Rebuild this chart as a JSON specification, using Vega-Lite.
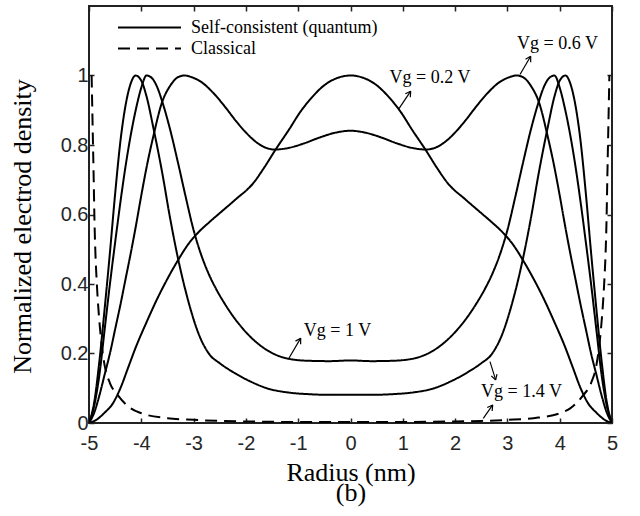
{
  "$schema": "https://vega.github.io/schema/vega-lite/v6.json",
  "width": 523,
  "height": 417,
  "autosize": {"type": "none"},
  "padding": {"left": 89, "top": 6, "right": 28, "bottom": 93},
  "background": "white",
  "config": {
    "view": {"stroke": "#222", "strokeWidth": 2},
    "axis": {
      "domain": false,
      "grid": false,
      "tickColor": "#222",
      "tickWidth": 1.5,
      "tickSize": -5,
      "labelFont": "Liberation Sans",
      "labelFontSize": 20,
      "labelColor": "#262626",
      "titleFont": "Liberation Serif",
      "titleFontSize": 26,
      "titleFontWeight": "normal",
      "titleColor": "black"
    }
  },
  "datasets": {
    "curves": [
      {"curve":"0.2","model":"quantum","r":-5,"n":0},{"curve":"0.2","model":"quantum","r":-4.85,"n":0.01},{"curve":"0.2","model":"quantum","r":-4.7,"n":0.03},{"curve":"0.2","model":"quantum","r":-4.55,"n":0.055},{"curve":"0.2","model":"quantum","r":-4.4,"n":0.1},{"curve":"0.2","model":"quantum","r":-4.25,"n":0.16},{"curve":"0.2","model":"quantum","r":-4.1,"n":0.22},{"curve":"0.2","model":"quantum","r":-3.9,"n":0.29},{"curve":"0.2","model":"quantum","r":-3.7,"n":0.356},{"curve":"0.2","model":"quantum","r":-3.5,"n":0.415},{"curve":"0.2","model":"quantum","r":-3.3,"n":0.468},{"curve":"0.2","model":"quantum","r":-3.1,"n":0.515},{"curve":"0.2","model":"quantum","r":-2.9,"n":0.55},{"curve":"0.2","model":"quantum","r":-2.7,"n":0.578},{"curve":"0.2","model":"quantum","r":-2.5,"n":0.604},{"curve":"0.2","model":"quantum","r":-2.2,"n":0.643},{"curve":"0.2","model":"quantum","r":-1.86,"n":0.69},{"curve":"0.2","model":"quantum","r":-1.65,"n":0.735},{"curve":"0.2","model":"quantum","r":-1.44,"n":0.785},{"curve":"0.2","model":"quantum","r":-1.16,"n":0.848},{"curve":"0.2","model":"quantum","r":-0.97,"n":0.893},{"curve":"0.2","model":"quantum","r":-0.75,"n":0.935},{"curve":"0.2","model":"quantum","r":-0.5,"n":0.972},{"curve":"0.2","model":"quantum","r":-0.25,"n":0.993},{"curve":"0.2","model":"quantum","r":0,"n":1},{"curve":"0.2","model":"quantum","r":0.25,"n":0.993},{"curve":"0.2","model":"quantum","r":0.5,"n":0.972},{"curve":"0.2","model":"quantum","r":0.75,"n":0.935},{"curve":"0.2","model":"quantum","r":0.97,"n":0.893},{"curve":"0.2","model":"quantum","r":1.16,"n":0.848},{"curve":"0.2","model":"quantum","r":1.44,"n":0.785},{"curve":"0.2","model":"quantum","r":1.65,"n":0.735},{"curve":"0.2","model":"quantum","r":1.86,"n":0.69},{"curve":"0.2","model":"quantum","r":2.2,"n":0.643},{"curve":"0.2","model":"quantum","r":2.5,"n":0.604},{"curve":"0.2","model":"quantum","r":2.7,"n":0.578},{"curve":"0.2","model":"quantum","r":2.9,"n":0.55},{"curve":"0.2","model":"quantum","r":3.1,"n":0.515},{"curve":"0.2","model":"quantum","r":3.3,"n":0.468},{"curve":"0.2","model":"quantum","r":3.5,"n":0.415},{"curve":"0.2","model":"quantum","r":3.7,"n":0.356},{"curve":"0.2","model":"quantum","r":3.9,"n":0.29},{"curve":"0.2","model":"quantum","r":4.1,"n":0.22},{"curve":"0.2","model":"quantum","r":4.25,"n":0.16},{"curve":"0.2","model":"quantum","r":4.4,"n":0.1},{"curve":"0.2","model":"quantum","r":4.55,"n":0.055},{"curve":"0.2","model":"quantum","r":4.7,"n":0.03},{"curve":"0.2","model":"quantum","r":4.85,"n":0.01},{"curve":"0.2","model":"quantum","r":5,"n":0},
      {"curve":"0.6","model":"quantum","r":-5,"n":0},{"curve":"0.6","model":"quantum","r":-4.9,"n":0.03},{"curve":"0.6","model":"quantum","r":-4.8,"n":0.08},{"curve":"0.6","model":"quantum","r":-4.7,"n":0.14},{"curve":"0.6","model":"quantum","r":-4.6,"n":0.2},{"curve":"0.6","model":"quantum","r":-4.5,"n":0.27},{"curve":"0.6","model":"quantum","r":-4.4,"n":0.34},{"curve":"0.6","model":"quantum","r":-4.3,"n":0.415},{"curve":"0.6","model":"quantum","r":-4.2,"n":0.49},{"curve":"0.6","model":"quantum","r":-4.1,"n":0.57},{"curve":"0.6","model":"quantum","r":-4.0,"n":0.655},{"curve":"0.6","model":"quantum","r":-3.88,"n":0.75},{"curve":"0.6","model":"quantum","r":-3.77,"n":0.825},{"curve":"0.6","model":"quantum","r":-3.61,"n":0.92},{"curve":"0.6","model":"quantum","r":-3.45,"n":0.97},{"curve":"0.6","model":"quantum","r":-3.3,"n":0.995},{"curve":"0.6","model":"quantum","r":-3.18,"n":1.0},{"curve":"0.6","model":"quantum","r":-3.0,"n":0.993},{"curve":"0.6","model":"quantum","r":-2.88,"n":0.984},{"curve":"0.6","model":"quantum","r":-2.6,"n":0.946},{"curve":"0.6","model":"quantum","r":-2.4,"n":0.91},{"curve":"0.6","model":"quantum","r":-2.2,"n":0.871},{"curve":"0.6","model":"quantum","r":-2.0,"n":0.836},{"curve":"0.6","model":"quantum","r":-1.8,"n":0.808},{"curve":"0.6","model":"quantum","r":-1.6,"n":0.791},{"curve":"0.6","model":"quantum","r":-1.45,"n":0.787},{"curve":"0.6","model":"quantum","r":-1.2,"n":0.791},{"curve":"0.6","model":"quantum","r":-0.9,"n":0.804},{"curve":"0.6","model":"quantum","r":-0.6,"n":0.821},{"curve":"0.6","model":"quantum","r":-0.3,"n":0.835},{"curve":"0.6","model":"quantum","r":0,"n":0.841},{"curve":"0.6","model":"quantum","r":0.3,"n":0.835},{"curve":"0.6","model":"quantum","r":0.6,"n":0.821},{"curve":"0.6","model":"quantum","r":0.9,"n":0.804},{"curve":"0.6","model":"quantum","r":1.2,"n":0.791},{"curve":"0.6","model":"quantum","r":1.45,"n":0.787},{"curve":"0.6","model":"quantum","r":1.6,"n":0.791},{"curve":"0.6","model":"quantum","r":1.8,"n":0.808},{"curve":"0.6","model":"quantum","r":2.0,"n":0.836},{"curve":"0.6","model":"quantum","r":2.2,"n":0.871},{"curve":"0.6","model":"quantum","r":2.4,"n":0.91},{"curve":"0.6","model":"quantum","r":2.6,"n":0.946},{"curve":"0.6","model":"quantum","r":2.88,"n":0.984},{"curve":"0.6","model":"quantum","r":3.0,"n":0.993},{"curve":"0.6","model":"quantum","r":3.18,"n":1.0},{"curve":"0.6","model":"quantum","r":3.3,"n":0.995},{"curve":"0.6","model":"quantum","r":3.45,"n":0.97},{"curve":"0.6","model":"quantum","r":3.61,"n":0.92},{"curve":"0.6","model":"quantum","r":3.77,"n":0.825},{"curve":"0.6","model":"quantum","r":3.88,"n":0.75},{"curve":"0.6","model":"quantum","r":4.0,"n":0.655},{"curve":"0.6","model":"quantum","r":4.1,"n":0.57},{"curve":"0.6","model":"quantum","r":4.2,"n":0.49},{"curve":"0.6","model":"quantum","r":4.3,"n":0.415},{"curve":"0.6","model":"quantum","r":4.4,"n":0.34},{"curve":"0.6","model":"quantum","r":4.5,"n":0.27},{"curve":"0.6","model":"quantum","r":4.6,"n":0.2},{"curve":"0.6","model":"quantum","r":4.7,"n":0.14},{"curve":"0.6","model":"quantum","r":4.8,"n":0.08},{"curve":"0.6","model":"quantum","r":4.9,"n":0.03},{"curve":"0.6","model":"quantum","r":5,"n":0},
      {"curve":"1","model":"quantum","r":-5,"n":0},{"curve":"1","model":"quantum","r":-4.9,"n":0.05},{"curve":"1","model":"quantum","r":-4.8,"n":0.14},{"curve":"1","model":"quantum","r":-4.7,"n":0.27},{"curve":"1","model":"quantum","r":-4.6,"n":0.4},{"curve":"1","model":"quantum","r":-4.5,"n":0.52},{"curve":"1","model":"quantum","r":-4.4,"n":0.635},{"curve":"1","model":"quantum","r":-4.3,"n":0.74},{"curve":"1","model":"quantum","r":-4.2,"n":0.83},{"curve":"1","model":"quantum","r":-4.1,"n":0.905},{"curve":"1","model":"quantum","r":-4.0,"n":0.965},{"curve":"1","model":"quantum","r":-3.9,"n":1.0},{"curve":"1","model":"quantum","r":-3.8,"n":0.993},{"curve":"1","model":"quantum","r":-3.7,"n":0.968},{"curve":"1","model":"quantum","r":-3.6,"n":0.925},{"curve":"1","model":"quantum","r":-3.45,"n":0.845},{"curve":"1","model":"quantum","r":-3.3,"n":0.75},{"curve":"1","model":"quantum","r":-3.15,"n":0.65},{"curve":"1","model":"quantum","r":-3.0,"n":0.555},{"curve":"1","model":"quantum","r":-2.88,"n":0.495},{"curve":"1","model":"quantum","r":-2.72,"n":0.432},{"curve":"1","model":"quantum","r":-2.56,"n":0.383},{"curve":"1","model":"quantum","r":-2.4,"n":0.342},{"curve":"1","model":"quantum","r":-2.24,"n":0.306},{"curve":"1","model":"quantum","r":-1.92,"n":0.249},{"curve":"1","model":"quantum","r":-1.6,"n":0.21},{"curve":"1","model":"quantum","r":-1.22,"n":0.186},{"curve":"1","model":"quantum","r":-0.8,"n":0.179},{"curve":"1","model":"quantum","r":-0.4,"n":0.178},{"curve":"1","model":"quantum","r":0,"n":0.18},{"curve":"1","model":"quantum","r":0.4,"n":0.178},{"curve":"1","model":"quantum","r":0.8,"n":0.179},{"curve":"1","model":"quantum","r":1.22,"n":0.186},{"curve":"1","model":"quantum","r":1.6,"n":0.21},{"curve":"1","model":"quantum","r":1.92,"n":0.249},{"curve":"1","model":"quantum","r":2.24,"n":0.306},{"curve":"1","model":"quantum","r":2.4,"n":0.342},{"curve":"1","model":"quantum","r":2.56,"n":0.383},{"curve":"1","model":"quantum","r":2.72,"n":0.432},{"curve":"1","model":"quantum","r":2.88,"n":0.495},{"curve":"1","model":"quantum","r":3.0,"n":0.555},{"curve":"1","model":"quantum","r":3.15,"n":0.65},{"curve":"1","model":"quantum","r":3.3,"n":0.75},{"curve":"1","model":"quantum","r":3.45,"n":0.845},{"curve":"1","model":"quantum","r":3.6,"n":0.925},{"curve":"1","model":"quantum","r":3.7,"n":0.968},{"curve":"1","model":"quantum","r":3.8,"n":0.993},{"curve":"1","model":"quantum","r":3.9,"n":1.0},{"curve":"1","model":"quantum","r":4.0,"n":0.965},{"curve":"1","model":"quantum","r":4.1,"n":0.905},{"curve":"1","model":"quantum","r":4.2,"n":0.83},{"curve":"1","model":"quantum","r":4.3,"n":0.74},{"curve":"1","model":"quantum","r":4.4,"n":0.635},{"curve":"1","model":"quantum","r":4.5,"n":0.52},{"curve":"1","model":"quantum","r":4.6,"n":0.4},{"curve":"1","model":"quantum","r":4.7,"n":0.27},{"curve":"1","model":"quantum","r":4.8,"n":0.14},{"curve":"1","model":"quantum","r":4.9,"n":0.05},{"curve":"1","model":"quantum","r":5,"n":0},
      {"curve":"1.4","model":"quantum","r":-5,"n":0},{"curve":"1.4","model":"quantum","r":-4.9,"n":0.06},{"curve":"1.4","model":"quantum","r":-4.8,"n":0.18},{"curve":"1.4","model":"quantum","r":-4.7,"n":0.33},{"curve":"1.4","model":"quantum","r":-4.6,"n":0.49},{"curve":"1.4","model":"quantum","r":-4.5,"n":0.66},{"curve":"1.4","model":"quantum","r":-4.4,"n":0.81},{"curve":"1.4","model":"quantum","r":-4.3,"n":0.915},{"curve":"1.4","model":"quantum","r":-4.2,"n":0.978},{"curve":"1.4","model":"quantum","r":-4.11,"n":1.0},{"curve":"1.4","model":"quantum","r":-4.0,"n":0.985},{"curve":"1.4","model":"quantum","r":-3.9,"n":0.94},{"curve":"1.4","model":"quantum","r":-3.77,"n":0.85},{"curve":"1.4","model":"quantum","r":-3.6,"n":0.72},{"curve":"1.4","model":"quantum","r":-3.45,"n":0.59},{"curve":"1.4","model":"quantum","r":-3.3,"n":0.475},{"curve":"1.4","model":"quantum","r":-3.1,"n":0.35},{"curve":"1.4","model":"quantum","r":-2.9,"n":0.255},{"curve":"1.4","model":"quantum","r":-2.7,"n":0.198},{"curve":"1.4","model":"quantum","r":-2.5,"n":0.172},{"curve":"1.4","model":"quantum","r":-2.24,"n":0.146},{"curve":"1.4","model":"quantum","r":-1.92,"n":0.12},{"curve":"1.4","model":"quantum","r":-1.6,"n":0.1},{"curve":"1.4","model":"quantum","r":-1.2,"n":0.088},{"curve":"1.4","model":"quantum","r":-0.8,"n":0.083},{"curve":"1.4","model":"quantum","r":-0.4,"n":0.081},{"curve":"1.4","model":"quantum","r":0,"n":0.081},{"curve":"1.4","model":"quantum","r":0.4,"n":0.081},{"curve":"1.4","model":"quantum","r":0.8,"n":0.083},{"curve":"1.4","model":"quantum","r":1.2,"n":0.088},{"curve":"1.4","model":"quantum","r":1.6,"n":0.1},{"curve":"1.4","model":"quantum","r":1.92,"n":0.12},{"curve":"1.4","model":"quantum","r":2.24,"n":0.146},{"curve":"1.4","model":"quantum","r":2.5,"n":0.172},{"curve":"1.4","model":"quantum","r":2.7,"n":0.198},{"curve":"1.4","model":"quantum","r":2.9,"n":0.255},{"curve":"1.4","model":"quantum","r":3.1,"n":0.35},{"curve":"1.4","model":"quantum","r":3.3,"n":0.475},{"curve":"1.4","model":"quantum","r":3.45,"n":0.59},{"curve":"1.4","model":"quantum","r":3.6,"n":0.72},{"curve":"1.4","model":"quantum","r":3.77,"n":0.85},{"curve":"1.4","model":"quantum","r":3.9,"n":0.94},{"curve":"1.4","model":"quantum","r":4.0,"n":0.985},{"curve":"1.4","model":"quantum","r":4.11,"n":1.0},{"curve":"1.4","model":"quantum","r":4.2,"n":0.978},{"curve":"1.4","model":"quantum","r":4.3,"n":0.915},{"curve":"1.4","model":"quantum","r":4.4,"n":0.81},{"curve":"1.4","model":"quantum","r":4.5,"n":0.66},{"curve":"1.4","model":"quantum","r":4.6,"n":0.49},{"curve":"1.4","model":"quantum","r":4.7,"n":0.33},{"curve":"1.4","model":"quantum","r":4.8,"n":0.18},{"curve":"1.4","model":"quantum","r":4.9,"n":0.06},{"curve":"1.4","model":"quantum","r":5,"n":0},
      {"curve":"cl","model":"classical","r":-4.95,"n":1.0},{"curve":"cl","model":"classical","r":-4.93,"n":0.85},{"curve":"cl","model":"classical","r":-4.91,"n":0.7},{"curve":"cl","model":"classical","r":-4.895,"n":0.58},{"curve":"cl","model":"classical","r":-4.88,"n":0.5},{"curve":"cl","model":"classical","r":-4.85,"n":0.4},{"curve":"cl","model":"classical","r":-4.8,"n":0.29},{"curve":"cl","model":"classical","r":-4.75,"n":0.215},{"curve":"cl","model":"classical","r":-4.7,"n":0.165},{"curve":"cl","model":"classical","r":-4.6,"n":0.115},{"curve":"cl","model":"classical","r":-4.45,"n":0.08},{"curve":"cl","model":"classical","r":-4.2,"n":0.042},{"curve":"cl","model":"classical","r":-4.0,"n":0.028},{"curve":"cl","model":"classical","r":-3.5,"n":0.014},{"curve":"cl","model":"classical","r":-3.0,"n":0.009},{"curve":"cl","model":"classical","r":-2.5,"n":0.006},{"curve":"cl","model":"classical","r":-2.0,"n":0.0045},{"curve":"cl","model":"classical","r":-1.0,"n":0.003},{"curve":"cl","model":"classical","r":0,"n":0.003},{"curve":"cl","model":"classical","r":1.0,"n":0.003},{"curve":"cl","model":"classical","r":2.0,"n":0.0045},{"curve":"cl","model":"classical","r":2.5,"n":0.006},{"curve":"cl","model":"classical","r":3.0,"n":0.009},{"curve":"cl","model":"classical","r":3.5,"n":0.014},{"curve":"cl","model":"classical","r":4.0,"n":0.028},{"curve":"cl","model":"classical","r":4.2,"n":0.042},{"curve":"cl","model":"classical","r":4.45,"n":0.08},{"curve":"cl","model":"classical","r":4.6,"n":0.115},{"curve":"cl","model":"classical","r":4.7,"n":0.165},{"curve":"cl","model":"classical","r":4.75,"n":0.215},{"curve":"cl","model":"classical","r":4.8,"n":0.29},{"curve":"cl","model":"classical","r":4.85,"n":0.4},{"curve":"cl","model":"classical","r":4.88,"n":0.5},{"curve":"cl","model":"classical","r":4.895,"n":0.58},{"curve":"cl","model":"classical","r":4.91,"n":0.7},{"curve":"cl","model":"classical","r":4.93,"n":0.85},{"curve":"cl","model":"classical","r":4.95,"n":1.0}
    ],
    "arrows": [
      {"r":0.914,"n":0.902,"r2":1.151,"n2":0.9548},{"r":1.048,"n":0.9473,"r2":1.151,"n2":0.9548},{"r":1.143,"n":0.9375,"r2":1.151,"n2":0.9548},
      {"r":3.241,"n":1.003,"r2":3.445,"n2":1.0556},{"r":3.346,"n":1.047,"r2":3.445,"n2":1.0556},{"r":3.445,"n":1.0383,"r2":3.445,"n2":1.0556},
      {"r":-1.189,"n":0.1836,"r2":-0.952,"n2":0.2441},{"r":-1.052,"n":0.2356,"r2":-0.952,"n2":0.2441},{"r":-0.954,"n":0.2268,"r2":-0.952,"n2":0.2441},
      {"r":2.667,"n":0.1767,"r2":2.776,"n2":0.1239},{"r":2.801,"n":0.1408,"r2":2.776,"n2":0.1239},{"r":2.692,"n":0.1357,"r2":2.776,"n2":0.1239},
      {"r":2.539,"n":0.0135,"r2":2.719,"n2":0.0519},{"r":2.615,"n":0.0447,"r2":2.719,"n2":0.0519},{"r":2.708,"n":0.0347,"r2":2.719,"n2":0.0519}
    ],
    "labels": [
      {"text":"Vg = 0.2 V","r":1.52,"n":0.977},
      {"text":"Vg = 0.6 V","r":3.958,"n":1.075},
      {"text":"Vg = 1 V","r":-0.249,"n":0.2507},
      {"text":"Vg = 1.4 V","r":3.27,"n":0.074}
    ]
  },
  "resolve": {"axis": {"x": "independent", "y": "independent"}},
  "layer": [
    {
      "data": {"name": "curves"},
      "mark": {"type": "line", "interpolate": "monotone", "strokeWidth": 2, "color": "black", "clip": true},
      "encoding": {
        "x": {"field": "r", "type": "quantitative",
              "scale": {"domain": [-5, 5], "nice": false, "zero": false},
              "axis": {"orient": "bottom", "values": [-5,-4,-3,-2,-1,0,1,2,3,4,5], "labelPadding": 15,
                       "labelExpr": "toString(datum.value)",
                       "title": ["Radius (nm)", "(b)"], "titleLineHeight": 20, "titlePadding": 6, "labelFlush": false}},
        "y": {"field": "n", "type": "quantitative",
              "scale": {"domain": [0, 1.2], "nice": false, "zero": false},
              "axis": {"orient": "left", "values": [0,0.2,0.4,0.6,0.8,1], "labelPadding": 6,
                       "labelExpr": "toString(datum.value)",
                       "title": "Normalized electrod density", "titlePadding": 25, "titleY": 220}},
        "detail": {"field": "curve"},
        "strokeDash": {"field": "model", "type": "nominal",
                       "scale": {"domain": ["quantum", "classical"], "range": [[1, 0], [12, 7]]},
                       "legend": {"orient": "none", "legendX": 49, "legendY": 10, "title": null,
                                  "symbolType": "M -3 0 L 3 0", "symbolSize": 441, "symbolStrokeWidth": 2,
                                  "symbolStrokeColor": "black", "labelFont": "Liberation Serif",
                                  "labelFontSize": 18, "labelColor": "black", "labelOffset": 30, "rowPadding": 0,
                                  "labelLimit": 400,
                                  "labelExpr": "datum.label == 'quantum' ? 'Self-consistent (quantum)' : 'Classical'"}}
      }
    },
    {
      "data": {"name": "arrows"},
      "mark": {"type": "rule", "strokeWidth": 1.2, "color": "black"},
      "encoding": {
        "x": {"field": "r", "type": "quantitative",
              "axis": {"orient": "top", "values": [-5,-4,-3,-2,-1,0,1,2,3,4,5], "labels": false, "title": null}},
        "y": {"field": "n", "type": "quantitative",
              "axis": {"orient": "right", "values": [0,0.2,0.4,0.6,0.8,1], "labels": false, "title": null}},
        "x2": {"field": "r2"},
        "y2": {"field": "n2"}
      }
    },
    {
      "data": {"name": "labels"},
      "mark": {"type": "text", "font": "Liberation Serif", "fontSize": 18, "align": "center", "baseline": "alphabetic", "color": "black"},
      "encoding": {
        "x": {"field": "r", "type": "quantitative", "axis": null},
        "y": {"field": "n", "type": "quantitative", "axis": null},
        "text": {"field": "text"}
      }
    }
  ]
}
